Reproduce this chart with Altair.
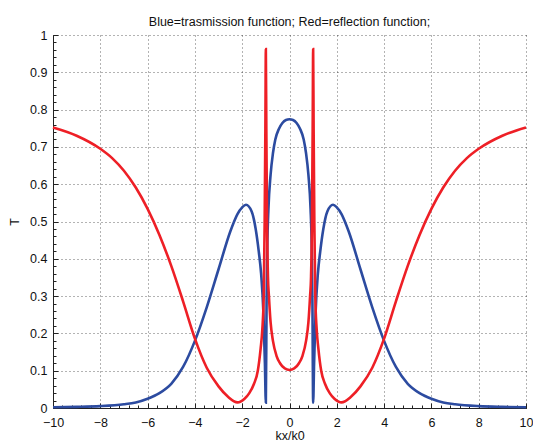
import altair as alt
import numpy as np
import pandas as pd

# Transmission curve T(kx/k0)
trans_x = [-10, -9, -8, -7, -6.5, -6, -5.5, -5, -4.5, -4, -3.5, -3, -2.5, -2.2, -2, -1.84,
           -1.6, -1.43, -1.3, -1.2, -1.1, -1.04, -1.0, -0.97, -0.94, -0.89, -0.8, -0.7,
           -0.6, -0.45, -0.3, -0.15, 0,
           0.15, 0.3, 0.45, 0.6, 0.7, 0.8, 0.89, 0.94, 0.97, 1.0, 1.04, 1.1, 1.2, 1.3,
           1.43, 1.6, 1.84, 2, 2.2, 2.5, 3, 3.5, 4, 4.5, 5, 5.5, 6, 6.5, 7, 8, 9, 10]
trans_y = [0.002, 0.003, 0.005, 0.01, 0.015, 0.025, 0.04, 0.065, 0.11, 0.18, 0.27, 0.372,
           0.474, 0.52, 0.538, 0.545, 0.527, 0.48, 0.42, 0.36, 0.25, 0.12, 0.014, 0.28,
           0.43, 0.535, 0.625, 0.683, 0.72, 0.748, 0.764, 0.772, 0.774,
           0.772, 0.764, 0.748, 0.72, 0.683, 0.625, 0.535, 0.43, 0.28, 0.014, 0.12, 0.25,
           0.36, 0.42, 0.48, 0.527, 0.545, 0.538, 0.52, 0.474, 0.372, 0.27, 0.18, 0.11,
           0.065, 0.04, 0.025, 0.015, 0.01, 0.005, 0.003, 0.002]

# Reflection curve R(kx/k0)
refl_x = [-10, -9, -8, -7.5, -7, -6.5, -6, -5.5, -5, -4.5, -4, -3.5, -3, -2.6, -2.2, -1.9,
          -1.7, -1.5, -1.34, -1.22, -1.15, -1.09, -1.05, -1.02, -1.0, -0.98, -0.95, -0.91,
          -0.87, -0.8, -0.7, -0.55, -0.4, -0.2, 0,
          0.2, 0.4, 0.55, 0.7, 0.8, 0.87, 0.91, 0.95, 0.98, 1.0, 1.02, 1.05, 1.09, 1.15,
          1.22, 1.34, 1.5, 1.7, 1.9, 2.2, 2.6, 3, 3.5, 4, 4.5, 5, 5.5, 6, 6.5, 7, 7.5, 8,
          9, 10]
refl_y = [0.752, 0.730, 0.695, 0.670, 0.636, 0.591, 0.534, 0.464, 0.381, 0.286, 0.186,
          0.108, 0.058, 0.03, 0.015, 0.025, 0.04, 0.065, 0.1, 0.16, 0.21, 0.3, 0.5, 0.75,
          0.962, 0.75, 0.5, 0.35, 0.3, 0.23, 0.18, 0.14, 0.12, 0.106, 0.102,
          0.106, 0.12, 0.14, 0.18, 0.23, 0.3, 0.35, 0.5, 0.75, 0.962, 0.75, 0.5, 0.3,
          0.21, 0.16, 0.1, 0.065, 0.04, 0.025, 0.015, 0.03, 0.058, 0.108, 0.186, 0.286,
          0.381, 0.464, 0.534, 0.591, 0.636, 0.670, 0.695, 0.730, 0.752]

x_major = [-10, -8, -6, -4, -2, 0, 2, 4, 6, 8, 10]
y_major = [0, 0.1, 0.2, 0.3, 0.4, 0.5, 0.6, 0.7, 0.8, 0.9, 1]
x_minor = [round(v, 2) for v in np.arange(-10, 10.001, 0.4)]
y_minor = [round(v, 3) for v in np.arange(0, 1.0001, 0.02)]

BLUE = "#2c4ba0"
RED = "#ee1f26"
FONT = "Liberation Sans"
AXIS_COLOR = "#222222"

trans = pd.DataFrame({"x": trans_x, "T": trans_y})
refl = pd.DataFrame({"x": refl_x, "T": refl_y})

xscale = alt.Scale(domain=[-10, 10], nice=False, zero=False)
yscale = alt.Scale(domain=[0, 1], nice=False, zero=False)

main_x_axis = alt.Axis(orient="bottom", values=x_major, tickSize=0, labelPadding=8,
                       grid=True, gridDash=[1, 3], gridColor="#000000", gridOpacity=0.6,
                       domainColor=AXIS_COLOR, labelColor="#111111", labelFontSize=12.5,
                       labelFont=FONT, title="kx/k0", titleFont=FONT, titleFontSize=12.5,
                       titleFontWeight="normal", titleColor="#111111", titlePadding=1,
                       format="d", labelFlush=False)
main_y_axis = alt.Axis(orient="left", values=y_major, tickSize=0, labelPadding=6,
                       grid=True, gridDash=[1, 3], gridColor="#000000", gridOpacity=0.6,
                       domainColor=AXIS_COLOR, labelColor="#111111", labelFontSize=12.5,
                       labelFont=FONT, title="T", titleFont=FONT, titleFontSize=12.5,
                       titleFontWeight="normal", titleColor="#111111", titlePadding=8,
                       format=".1~f", labelFlush=False)

blue_line = alt.Chart(trans).mark_line(color=BLUE, strokeWidth=2.6, interpolate="monotone").encode(
    x=alt.X("x:Q", scale=xscale, axis=main_x_axis),
    y=alt.Y("T:Q", scale=yscale, axis=main_y_axis),
)
red_line = alt.Chart(refl).mark_line(color=RED, strokeWidth=2.6, interpolate="monotone").encode(
    x=alt.X("x:Q", scale=xscale, axis=None),
    y=alt.Y("T:Q", scale=yscale, axis=None),
)


def tick_layer(xvals, yvals, size):
    # invisible layer that only carries inward-pointing tick marks
    return alt.Chart(trans).mark_line(opacity=0).encode(
        x=alt.X("x:Q", scale=xscale,
                axis=alt.Axis(orient="bottom", values=xvals, offset=-size, tickSize=size,
                              domain=False, labels=False, grid=False, title=None,
                              tickColor=AXIS_COLOR, tickWidth=1)),
        y=alt.Y("T:Q", scale=yscale,
                axis=alt.Axis(orient="left", values=yvals, offset=-size, tickSize=size,
                              domain=False, labels=False, grid=False, title=None,
                              tickColor=AXIS_COLOR, tickWidth=1)),
    )


chart = alt.layer(
    blue_line,
    red_line,
    tick_layer(x_minor, y_minor, 3),
    tick_layer(x_major, y_major, 5),
).resolve_axis(x="independent", y="independent").properties(
    width=473,
    height=373,
    autosize=alt.AutoSizeParams(type="none"),
    padding={"left": 53, "top": 35, "right": 7, "bottom": 36},
    background="white",
    title=alt.TitleParams("Blue=trasmission function; Red=reflection function;",
                          font=FONT, fontSize=12.5, fontWeight="normal", color="#111111",
                          anchor="middle", offset=1),
).configure_view(stroke=None)

chart.save("out.html", embed_options={"renderer": "svg", "actions": False})
